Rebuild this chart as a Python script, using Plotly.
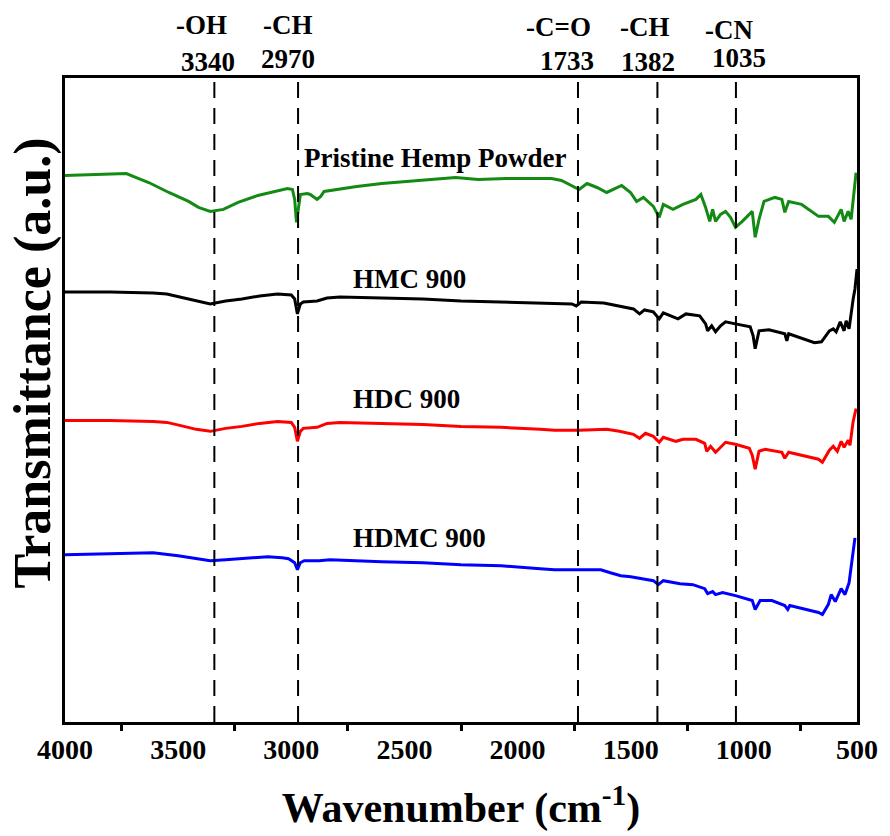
import plotly.graph_objects as go

# ---------------- data ----------------
pristine_wn = [4000, 3900, 3800, 3729, 3685, 3630, 3541, 3454, 3410, 3358, 3300, 3235, 3148, 3061, 3017, 2995,
               2985, 2977, 2968, 2960, 2930, 2916, 2886, 2870, 2855, 2800, 2711, 2600, 2493, 2400, 2274,
               2174, 2050, 1955, 1850, 1806, 1763, 1728, 1693, 1649, 1606, 1540, 1501, 1474, 1444, 1400,
               1374, 1356, 1313, 1269, 1212, 1190, 1169, 1151, 1138, 1125, 1103, 1081, 1059, 1037, 1007,
               963, 950, 933, 911, 863, 832, 819, 802, 745, 670, 627, 600, 570, 557, 539, 526, 513, 504]
pristine_t = [549, 550, 551, 551, 547, 542, 532, 523, 517, 513, 515, 522, 529, 534, 536, 535,
              525, 502, 520, 530, 531, 530, 525, 528, 533, 535, 538, 541, 543, 545, 547,
              545, 546, 546, 546, 544, 539, 535, 541, 537, 532, 539, 532, 523, 527, 518,
              507, 520, 515, 520, 525, 530, 517, 503, 515, 503, 510, 513, 507, 497, 503,
              513, 487, 505, 523, 527, 525, 512, 523, 520, 508, 508, 502, 515, 503, 513, 505, 535, 552]

hmc_wn = [4000, 3800, 3611, 3550, 3493, 3420, 3358, 3290, 3218, 3140, 3061, 3000, 2985, 2973, 2960, 2947,
          2886, 2842, 2785, 2600, 2418, 2250, 2073, 1900, 1837, 1760, 1741, 1719, 1619, 1550, 1488,
          1461, 1439, 1400, 1374, 1356, 1321, 1291, 1256, 1195, 1169, 1160, 1142, 1125, 1103, 1081,
          1037, 972, 959, 950, 933, 889, 819, 810, 802, 750, 688, 657, 622, 605, 592, 574, 557,
          548, 535, 517, 509, 500]
hmc_t = [432, 432, 431, 430, 427, 423, 420, 423, 425, 428, 430, 429, 425, 410, 420, 422,
         423, 426, 427, 426, 425, 423, 422, 421, 421, 420, 418, 422, 421, 418, 415,
         410, 414, 412, 405, 411, 408, 405, 410, 408, 400, 393, 398, 392, 398, 402,
         400, 397, 388, 375, 393, 394, 390, 383, 390, 386, 381, 382, 393, 395, 392, 402, 393,
         403, 395, 425, 435, 455]

hdc_wn = [4000, 3800, 3611, 3550, 3493, 3420, 3358, 3290, 3218, 3140, 3061, 3000, 2985, 2973, 2960, 2947,
          2886, 2842, 2785, 2600, 2418, 2250, 2073, 1900, 1837, 1728, 1606, 1550, 1488, 1461, 1435,
          1400, 1374, 1356, 1326, 1300, 1269, 1212, 1173, 1164, 1147, 1125, 1107, 1081, 1037, 976,
          963, 950, 933, 906, 832, 819, 802, 740, 670, 653, 622, 605, 587, 570, 557, 539,
          531, 517, 504]
hdc_t = [303, 303, 302, 301, 298, 294, 292, 295, 297, 300, 302, 301, 296, 282, 292, 295,
         296, 300, 301, 300, 299, 297, 296, 294, 293, 293, 294, 292, 289, 285, 290,
         287, 281, 286, 284, 282, 284, 284, 280, 272, 277, 271, 275, 281, 279, 275,
         268, 254, 272, 274, 271, 265, 271, 268, 264, 261, 273, 277, 272, 282, 276, 283,
         278, 302, 315]

hdmc_wn = [4000, 3800, 3611, 3500, 3420, 3358, 3290, 3218, 3104, 3040, 3012, 2985, 2973, 2960, 2943, 2877,
           2829, 2600, 2418, 2250, 2073, 1900, 1837, 1700, 1632, 1590, 1544, 1500, 1457, 1400, 1378,
           1356, 1282, 1225, 1173, 1160, 1138, 1125, 1094, 1037, 963, 950, 928, 876, 819, 806, 797,
           740, 670, 653, 627, 614, 596, 570, 553, 535, 517, 509]
hdmc_t = [168, 169, 170, 167, 164, 162, 163, 164, 166, 165, 164, 160, 153, 160, 162, 162,
          163, 161, 160, 158, 157, 154, 153, 153, 153, 150, 147, 146, 144, 142, 138,
          142, 139, 138, 134, 129, 131, 128, 130, 127, 122, 113, 122, 122, 117, 113, 117,
          114, 110, 108, 118, 128, 121, 134, 128, 140, 168, 185]

series_names = ["Pristine Hemp Powder", "HMC 900", "HDC 900", "HDMC 900"]
series_colors = ["#138a13", "#000000", "#ff0000", "#0000ff"]
label_wn = [2951, 2737, 2737, 2737]
label_t = [567, 445, 325, 185]

peak_wn = [3340, 2970, 1733, 1382, 1035]
peak_groups = ["-OH", "-CH", "-C=O", "-CH", "-CN"]
group_shift = [-13, -10, -19, -12, -7]
group_y = [1.082, 1.082, 1.079, 1.079, 1.074]
num_shift = [-6, -10, -11, -9, 3]
num_y = [1.025, 1.029, 1.027, 1.025, 1.031]

tick_vals = [4000, 3500, 3000, 2500, 2000, 1500, 1000, 500]
minor_vals = [3750, 3250, 2750, 2250, 1750, 1250, 750]

FONT = "Liberation Serif"

# ---------------- figure ----------------
fig = go.Figure()
for wn, t, name, col in zip([pristine_wn, hmc_wn, hdc_wn, hdmc_wn],
                            [pristine_t, hmc_t, hdc_t, hdmc_t],
                            series_names, series_colors):
    fig.add_trace(go.Scatter(x=wn, y=t, mode="lines", name=name,
                             line=dict(color=col, width=3), showlegend=False))

for name, x, y in zip(series_names, label_wn, label_t):
    fig.add_annotation(x=x, y=y, xref="x", yref="y", text="<b>%s</b>" % name,
                       showarrow=False, xanchor="left", yanchor="middle",
                       font=dict(family=FONT, size=27, color="black"))

for wn, g, gs, gy, ns, ny in zip(peak_wn, peak_groups, group_shift, group_y, num_shift, num_y):
    fig.add_shape(type="line", xref="x", yref="paper", x0=wn, x1=wn, y0=0, y1=1,
                  line=dict(color="black", width=2, dash="16px,10px"))
    fig.add_annotation(x=wn, y=gy, xref="x", yref="paper", text="<b>%s</b>" % g,
                       showarrow=False, xshift=gs, yanchor="middle",
                       font=dict(family=FONT, size=27, color="black"))
    fig.add_annotation(x=wn, y=ny, xref="x", yref="paper", text="<b>%d</b>" % wn,
                       showarrow=False, xshift=ns, yanchor="middle",
                       font=dict(family=FONT, size=27, color="black"))

# y-axis title (placed as rotated text to match the reference position)
fig.add_annotation(x=-0.04, y=0.557, xref="paper", yref="paper",
                   text="<b>Transmittance (a.u.)</b>", textangle=-90, showarrow=False,
                   xanchor="center", yanchor="middle",
                   font=dict(family=FONT, size=52, color="black"))

fig.update_layout(
    width=890, height=836,
    margin=dict(l=65, r=23, t=78, b=111),
    paper_bgcolor="white", plot_bgcolor="white",
    font=dict(family=FONT, color="black"),
    xaxis=dict(range=[4000, 500], showgrid=False, zeroline=False,
               showline=True, linecolor="black", linewidth=3, mirror=True,
               tickmode="array", tickvals=tick_vals,
               ticktext=["<b>%d</b>" % v for v in tick_vals],
               ticks="", tickfont=dict(family=FONT, size=28, color="black"),
               minor=dict(tickmode="array", tickvals=minor_vals, ticks="outside",
                          ticklen=6, tickwidth=3, tickcolor="black"),
               title=dict(text="<b>Wavenumber (cm<sup>-1</sup>)</b>", standoff=30,
                          font=dict(family=FONT, size=42, color="black"))),
    yaxis=dict(range=[0, 647], showgrid=False, zeroline=False,
               showline=True, linecolor="black", linewidth=3, mirror=True,
               showticklabels=False, ticks=""),
)

fig.write_html("out.html")
